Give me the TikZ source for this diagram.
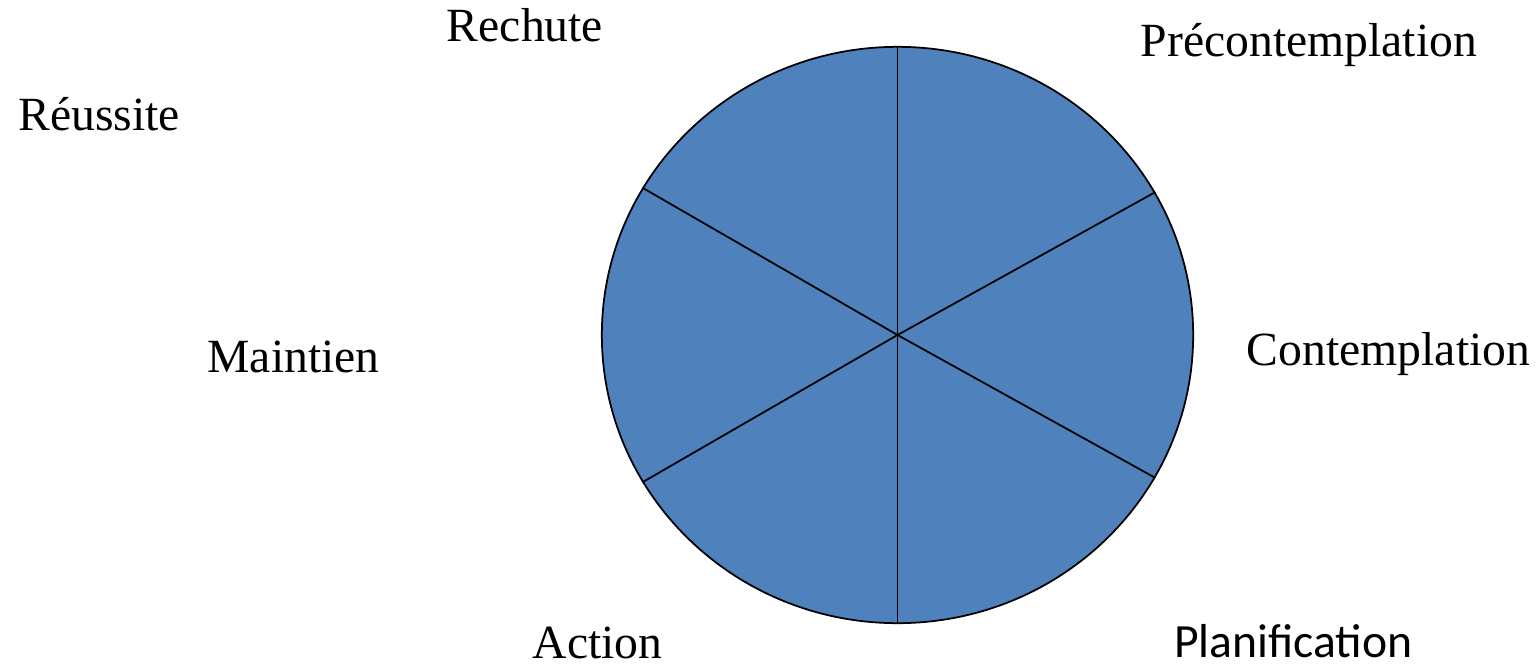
\documentclass[tikz,border=0pt]{standalone}
\usepackage{fontspec}
\setmainfont{Liberation Serif}
\newfontfamily\calibrifont{Carlito}
\usepackage{xcolor}
\usepackage{tikz}
\usetikzlibrary{positioning,shapes.geometric}
\definecolor{wheelblue}{HTML}{4F81BD}
\tikzset{
    wheel/.style={ellipse, draw=black, fill=wheelblue, line width=0.5pt, minimum width=5.91cm, minimum height=5.76cm, inner sep=0pt},
    spoke/.style={draw=black, line width=0.5pt},
    stage/.style={anchor=base, inner sep=0pt, font=\fontsize{13.55}{16}\selectfont}
}

\begin{document}
\begin{tikzpicture}[x=0.01cm, y=-0.01cm]
    \useasboundingbox (0,0) rectangle (1540,667);

    % Roue
    \node[wheel] (wheel) at (897.5,335) {};

    % Rayons
    \draw[spoke] (wheel.center) -- (wheel.90);
    \draw[spoke] (wheel.center) -- (wheel.-90);
    \draw[spoke] (wheel.center) -- (wheel.29.4);
    \draw[spoke] (wheel.center) -- (wheel.150.6);
    \draw[spoke] (wheel.center) -- (wheel.-29.4);
    \draw[spoke] (wheel.center) -- (wheel.-150.6);

    % Étapes
    \node[stage] (rechute) at (525,42) {Rechute};
    \node[stage] (precontemplation) at (1309,57) {Précontemplation};
    \node[stage] (reussite) at (99,130) {Réussite};
    \node[stage] (maintien) at (293.5,372) {Maintien};
    \node[stage] (contemplation) at (1388.5,365) {Contemplation};
    \node[stage] (action) at (597.5,658) {Action};
    \node[stage, font=\calibrifont\fontsize{13.55}{16}\selectfont] (planification) at (1293.5,657) {Planification};

\end{tikzpicture}
\end{document}
